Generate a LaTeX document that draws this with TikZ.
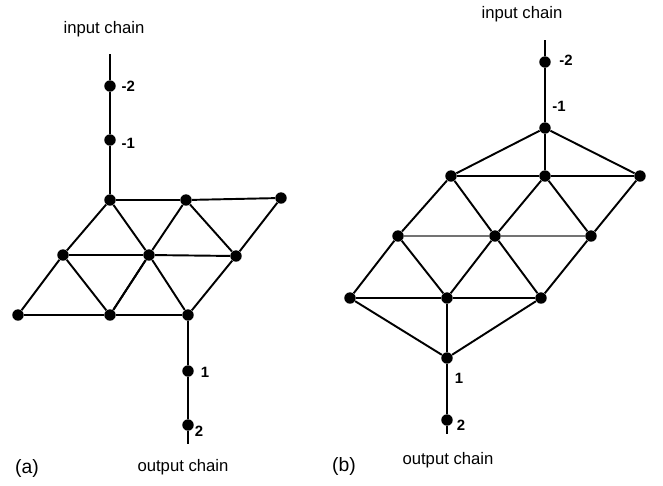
\documentclass[tikz,border=0pt]{standalone}
\usepackage{fontspec}
\setmainfont{Liberation Sans}
\usetikzlibrary{positioning}

\tikzset{
  site/.style={circle, fill=black, inner sep=0pt, minimum size=6.5pt},
  bond/.style={line width=1.1pt},
  tag/.style={font=\fontsize{8.5}{9}\selectfont\bfseries, inner sep=1pt},
  chainname/.style={font=\fontsize{9.5}{10}\selectfont, inner sep=1pt},
  panel/.style={font=\fontsize{11}{12}\selectfont, inner sep=1pt}
}

\begin{document}
\begin{tikzpicture}[x=0.02cm, y=-0.02cm]
  \useasboundingbox (0,0) rectangle (663,485);

  % (a) -- input chain, lattice, output chain
  \node[chainname] (ina) at (104,29) {input chain};
  \coordinate (atop) at (110,54);
  \node[site] (am2) at (110,86) {};
  \node[site] (am1) at (110,140) {};
  \node[tag, right=2pt of am2] {-2};
  \node[tag, right=2pt of am1, yshift=-2pt] {-1};

  \node[site] (a11) at (110,200) {};
  \node[site] (a12) at (186,200) {};
  \node[site] (a13) at (281,198) {};
  \node[site] (a21) at (63,255) {};
  \node[site] (a22) at (149,255) {};
  \node[site] (a23) at (236,256) {};
  \node[site] (a31) at (18,315) {};
  \node[site] (a32) at (110,315) {};
  \node[site] (a33) at (188,315) {};

  \node[site] (ap1) at (188,371) {};
  \node[site] (ap2) at (188,425) {};
  \coordinate (abot) at (188,444);
  \node[tag] at (205,372) {1};
  \node[tag] at (199,431) {2};

  \draw[bond] (atop) -- (am2) -- (am1) -- (a11);
  \draw[bond] (a11) -- (a12) -- (a13);
  \draw[bond] (a21) -- (a22) -- (a23);
  \draw[bond] (a31) -- (a32) -- (a33);
  \draw[bond] (a11) -- (a21) -- (a31);
  \draw[bond] (a11) -- (a22) -- (a32);
  \draw[bond] (a12) -- (a22) -- (a32);
  \draw[bond] (a12) -- (a23) -- (a33);
  \draw[bond] (a13) -- (a23);
  \draw[bond] (a21) -- (a32);
  \draw[bond] (a22) -- (a33);
  \draw[bond] (a33) -- (ap1) -- (ap2) -- (abot);

  \node[panel] (pa) at (27,468) {(a)};
  \node[chainname] (outa) at (183,467) {output chain};

  % (b) -- input chain, lattice, output chain
  \node[chainname] (inb) at (522,14) {input chain};
  \coordinate (btop) at (545,40);
  \node[site] (bm2) at (545,62) {};
  \node[tag] at (566,60) {-2};
  \node[tag] at (559,106) {-1};

  \node[site] (b0)  at (545,128) {};
  \node[site] (b11) at (451,176) {};
  \node[site] (b12) at (545,176) {};
  \node[site] (b13) at (640,176) {};
  \node[site] (b21) at (398,236) {};
  \node[site] (b22) at (495,236) {};
  \node[site] (b23) at (591,236) {};
  \node[site] (b31) at (350,298) {};
  \node[site] (b32) at (447,298) {};
  \node[site] (b33) at (541,298) {};
  \node[site] (b4)  at (447,358) {};

  \node[site] (bp2) at (447,420) {};
  \coordinate (bbot) at (447,434);
  \node[tag] at (459,378) {1};
  \node[tag] at (461,425) {2};

  \draw[bond] (btop) -- (bm2) -- (b0);
  \draw[bond] (b0) -- (b11);
  \draw[bond] (b0) -- (b12);
  \draw[bond] (b0) -- (b13);
  \draw[bond] (b11) -- (b12) -- (b13);
  \draw[bond, black!55] (b21) -- (b22) -- (b23);
  \draw[bond] (b31) -- (b32) -- (b33);
  \draw[bond] (b11) -- (b21) -- (b31);
  \draw[bond] (b11) -- (b22) -- (b32);
  \draw[bond] (b12) -- (b22);
  \draw[bond] (b12) -- (b23) -- (b33);
  \draw[bond] (b13) -- (b23);
  \draw[bond] (b21) -- (b32);
  \draw[bond] (b22) -- (b33);
  \draw[bond] (b31) -- (b4);
  \draw[bond] (b32) -- (b4);
  \draw[bond] (b33) -- (b4);
  \draw[bond] (b4) -- (bp2) -- (bbot);

  \node[panel] (pb) at (344,466) {(b)};
  \node[chainname] (outb) at (448,460) {output chain};
\end{tikzpicture}
\end{document}
